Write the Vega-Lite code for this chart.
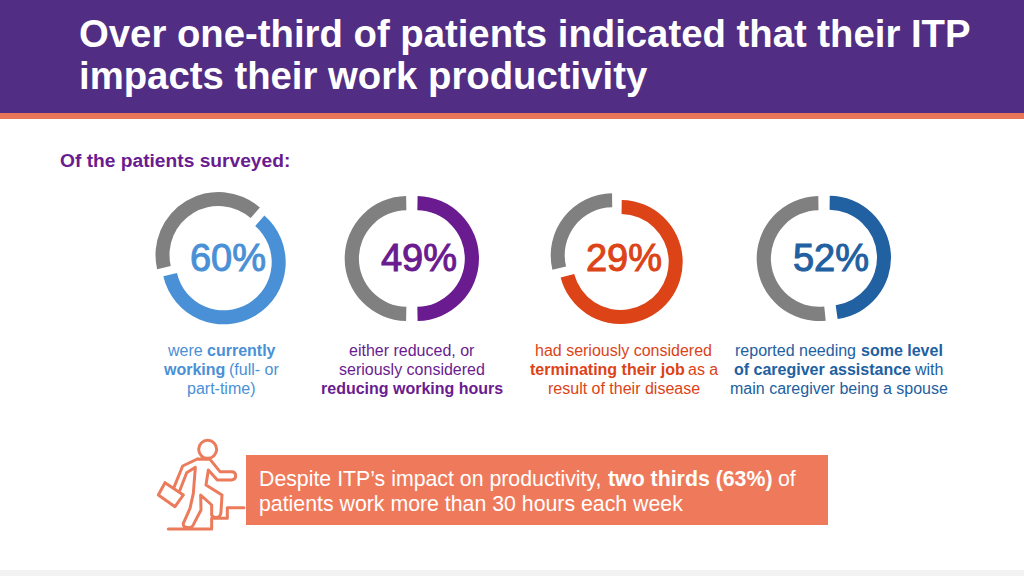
{
"$schema":"https://vega.github.io/schema/vega-lite/v6.json",
"width":1024,"height":576,"padding":0,
"autosize":{"type":"fit","contains":"padding"},
"background":"#ffffff",
"config":{"view":{"stroke":null}},
"datasets":{
"panels":[
{"group":"banner","col":0,"col2":38,"line":0,"line2":3},
{"group":"stripe","col":0,"col2":38,"line":3,"line2":4},
{"group":"box","col":12,"col2":33,"line":17,"line2":20},
{"group":"footer","col":0,"col2":38,"line":21,"line2":22}
],
"rings":[
{"segment":"a-rest","pct":40,"col":8,"line":6},
{"segment":"a-share","pct":60,"col":9,"line":11},
{"segment":"b-rest","pct":51,"col":17,"line":9},
{"segment":"b-share","pct":49,"col":18,"line":9},
{"segment":"c-rest","pct":29,"col":24,"line":7},
{"segment":"c-share","pct":71,"col":25,"line":10},
{"segment":"d-rest","pct":52,"col":32,"line":9},
{"segment":"d-share","pct":48,"col":34,"line":8}
],
"texts":[
{"kind":"title","group":"white","text":"Over one-third of patients indicated that their ITP","col":2,"line":1},
{"kind":"title","group":"white","text":"impacts their work productivity","col":2,"line":2},
{"kind":"sub","group":"purple","text":"Of the patients surveyed:","col":1,"line":5},
{"kind":"pct","group":"lightblue","text":"60%","col":10,"line":12},
{"kind":"pct","group":"purple","text":"49%","col":19,"line":12},
{"kind":"pct","group":"orange","text":"29%","col":26,"line":12},
{"kind":"pct","group":"darkblue","text":"52%","col":35,"line":12},
{"kind":"cap","group":"lightblue","text":"were","col":5,"line":13},
{"kind":"capb","group":"lightblue","text":"currently","col":7,"line":13},
{"kind":"capb","group":"lightblue","text":"working","col":4,"line":14},
{"kind":"cap","group":"lightblue","text":"(full- or","col":11,"line":14},
{"kind":"cap","group":"lightblue","text":"part-time)","col":6,"line":15},
{"kind":"cap","group":"purple","text":"either reduced, or","col":16,"line":13},
{"kind":"cap","group":"purple","text":"seriously considered","col":15,"line":14},
{"kind":"capb","group":"purple","text":"reducing working hours","col":14,"line":15},
{"kind":"cap","group":"orange","text":"had seriously considered","col":21,"line":13},
{"kind":"capb","group":"orange","text":"terminating their job","col":20,"line":14},
{"kind":"cap","group":"orange","text":"as a","col":27,"line":14},
{"kind":"cap","group":"orange","text":"result of their disease","col":22,"line":15},
{"kind":"cap","group":"darkblue","text":"reported needing","col":30,"line":13},
{"kind":"capb","group":"darkblue","text":"some level","col":36,"line":13},
{"kind":"capb","group":"darkblue","text":"of caregiver assistance","col":29,"line":14},
{"kind":"cap","group":"darkblue","text":"with","col":37,"line":14},
{"kind":"cap","group":"darkblue","text":"main caregiver being a spouse","col":28,"line":15},
{"kind":"call","group":"white","text":"Despite ITP’s impact on productivity,","col":13,"line":18},
{"kind":"callb","group":"white","text":"two thirds (63%)","col":23,"line":18},
{"kind":"call","group":"white","text":"of","col":31,"line":18},
{"kind":"call","group":"white","text":"patients work more than 30 hours each week","col":13,"line":19}
],
"icon":[{"name":"climbing figure","col":3,"line":16}]
},
"encoding":{
"x":{"field":"col","type":"quantitative","stack":null,"axis":null,"scale":{"type":"linear","nice":false,"zero":false,"domain":[0,1,2,3,4,5,6,7,8,9,10,11,12,13,14,15,16,17,18,19,20,21,22,23,24,25,26,27,28,29,30,31,32,33,34,35,36,37,38],"range":[0,60,79,140,164,168,187,207,218.5,223.7,228,229,246,259,321,339,349,407.2,416.5,419,530,535,548,608,612.7,620.7,624,688,730,734,735,778,819.2,828,829,831,861,915,1024]}},
"y":{"field":"line","type":"quantitative","stack":null,"axis":null,"scale":{"type":"linear","nice":false,"zero":false,"domain":[0,1,2,3,4,5,6,7,8,9,10,11,12,13,14,15,16,17,18,19,20,21,22],"range":[0,47,89,113,119,167,255,255.3,257.7,258.5,262,262.3,271,356,375,394,430,455,486,511,525,570,576]}}
},
"resolve":{"scale":{"theta":"independent"}},
"layer":[
{"data":{"name":"panels"},"mark":{"type":"rect"},
"encoding":{"x2":{"field":"col2"},"y2":{"field":"line2"},
"color":{"field":"group","type":"nominal","legend":null,"scale":{"domain":["banner","stripe","box","footer","white","purple","lightblue","orange","darkblue"],"range":["#512D83","#E97659","#EF7A5B","#F2F2F2","#FFFFFF","#6A1B8F","#4A90D6","#DC4317","#2160A1"]}}}},
{"data":{"name":"rings"},"transform":[{"filter":"datum.segment=='a-rest'"}],"mark":{"type":"arc","radius":63,"radius2":49,"color":"#808080"},"encoding":{"theta":{"field":"pct","type":"quantitative","scale":{"domain":[0,40],"range":[4.485,6.999]}},"theta2":{"datum":0}}},
{"data":{"name":"rings"},"transform":[{"filter":"datum.segment=='a-share'"}],"mark":{"type":"arc","radius":62,"radius2":48,"color":"#4A90D6"},"encoding":{"theta":{"field":"pct","type":"quantitative","scale":{"domain":[0,60],"range":[0.716,4.485]}},"theta2":{"datum":0}}},
{"data":{"name":"rings"},"transform":[{"filter":"datum.segment=='b-rest'"}],"mark":{"type":"arc","radius":62.5,"radius2":48.3,"color":"#808080"},"encoding":{"theta":{"field":"pct","type":"quantitative","scale":{"domain":[0,51],"range":[3.159,6.266]}},"theta2":{"datum":0}}},
{"data":{"name":"rings"},"transform":[{"filter":"datum.segment=='b-share'"}],"mark":{"type":"arc","radius":62.5,"radius2":48.3,"color":"#6A1B8F"},"encoding":{"theta":{"field":"pct","type":"quantitative","scale":{"domain":[0,49],"range":[0.0175,3.124]}},"theta2":{"datum":0}}},
{"data":{"name":"rings"},"transform":[{"filter":"datum.segment=='c-rest'"}],"mark":{"type":"arc","radius":62,"radius2":48,"color":"#808080"},"encoding":{"theta":{"field":"pct","type":"quantitative","scale":{"domain":[0,29],"range":[4.477,6.273]}},"theta2":{"datum":0}}},
{"data":{"name":"rings"},"transform":[{"filter":"datum.segment=='c-share'"}],"mark":{"type":"arc","radius":62,"radius2":48,"color":"#DC4317"},"encoding":{"theta":{"field":"pct","type":"quantitative","scale":{"domain":[0,71],"range":[0.0175,4.461]}},"theta2":{"datum":0}}},
{"data":{"name":"rings"},"transform":[{"filter":"datum.segment=='d-rest'"}],"mark":{"type":"arc","radius":62.5,"radius2":48.3,"color":"#808080"},"encoding":{"theta":{"field":"pct","type":"quantitative","scale":{"domain":[0,52],"range":[3.037,6.269]}},"theta2":{"datum":0}}},
{"data":{"name":"rings"},"transform":[{"filter":"datum.segment=='d-share'"}],"mark":{"type":"arc","radius":62,"radius2":48,"color":"#2160A1"},"encoding":{"theta":{"field":"pct","type":"quantitative","scale":{"domain":[0,48],"range":[0.0122,3.002]}},"theta2":{"datum":0}}},
{"data":{"name":"icon"},"mark":{"type":"point","filled":false,"opacity":1,"stroke":"#EC7B5C","strokeWidth":3,"size":0.4444,"strokeCap":"round","strokeJoin":"round","shape":"M230 58A27 27 0 1 1 176 58A27 27 0 1 1 230 58Z M172 87L128 108L102 172 M120 180L140 128L166 112L160 190L150 235L130 280Q128 292 145 293Q158 293 162 280L183 240L182 195L215 225L215 255Q220 265 232 262Q243 258 243 245L246 195L198 165L205 120L232 150L275 150Q287 148 287 138Q287 125 275 125L240 125L210 88 M172 87L210 88 M75 158L130 195L105 230L55 195Z M85 297L215 297L215 265L262 265L262 233L312 233"}},
{"data":{"name":"texts"},"transform":[{"filter":"datum.kind=='title'"}],"mark":{"type":"text","align":"left","baseline":"alphabetic","font":"Liberation Sans","fontWeight":"bold","fontSize":38.3},"encoding":{"text":{"field":"text"},"color":{"field":"group","type":"nominal","legend":null}}},
{"data":{"name":"texts"},"transform":[{"filter":"datum.kind=='sub'"}],"mark":{"type":"text","align":"left","baseline":"alphabetic","font":"Liberation Sans","fontWeight":"bold","fontSize":19.2},"encoding":{"text":{"field":"text"},"color":{"field":"group","type":"nominal","legend":null}}},
{"data":{"name":"texts"},"transform":[{"filter":"datum.kind=='pct'"}],"mark":{"type":"text","align":"center","baseline":"alphabetic","font":"Liberation Sans","fontSize":38,"strokeWidth":1},"encoding":{"text":{"field":"text"},"color":{"field":"group","type":"nominal","legend":null},"stroke":{"field":"group","type":"nominal","legend":null,"scale":{"domain":["white","purple","lightblue","orange","darkblue"],"range":["#FFFFFF","#6A1B8F","#4A90D6","#DC4317","#2160A1"]}}}},
{"data":{"name":"texts"},"transform":[{"filter":"datum.kind=='cap'"}],"mark":{"type":"text","align":"left","baseline":"alphabetic","font":"Liberation Sans","fontSize":16},"encoding":{"text":{"field":"text"},"color":{"field":"group","type":"nominal","legend":null}}},
{"data":{"name":"texts"},"transform":[{"filter":"datum.kind=='capb'"}],"mark":{"type":"text","align":"left","baseline":"alphabetic","font":"Liberation Sans","fontWeight":"bold","fontSize":16},"encoding":{"text":{"field":"text"},"color":{"field":"group","type":"nominal","legend":null}}},
{"data":{"name":"texts"},"transform":[{"filter":"datum.kind=='call'"}],"mark":{"type":"text","align":"left","baseline":"alphabetic","font":"Liberation Sans","fontSize":21.3},"encoding":{"text":{"field":"text"},"color":{"field":"group","type":"nominal","legend":null}}},
{"data":{"name":"texts"},"transform":[{"filter":"datum.kind=='callb'"}],"mark":{"type":"text","align":"left","baseline":"alphabetic","font":"Liberation Sans","fontWeight":"bold","fontSize":21.3},"encoding":{"text":{"field":"text"},"color":{"field":"group","type":"nominal","legend":null}}}
]
}
